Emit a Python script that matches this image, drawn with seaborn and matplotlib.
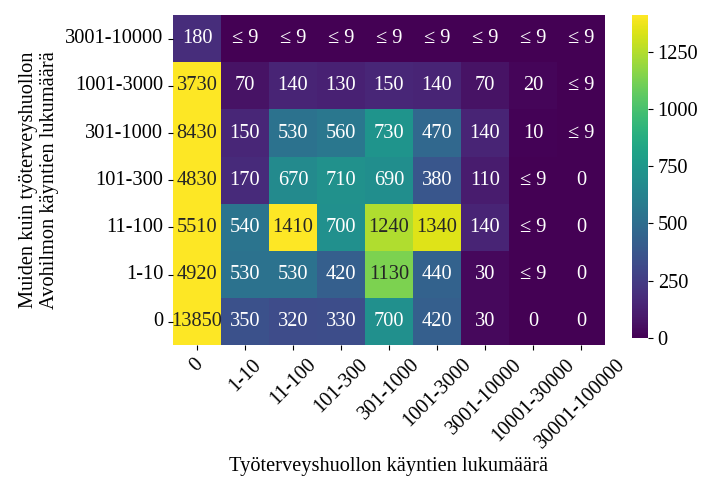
import numpy as np
import pandas as pd
import matplotlib
matplotlib.use("Agg")
import matplotlib.pyplot as plt
import seaborn as sns

# Visit-count classes
col_labels = ["0", "1-10", "11-100", "101-300", "301-1000", "1001-3000",
              "3001-10000", "10001-30000", "30001-100000"]
row_labels = ["3001-10000", "1001-3000", "301-1000", "101-300", "11-100", "1-10", "0"]

# Counts per cell (suppressed small counts stored as 5 and shown as "≤ 9")
row_3001_10000 = [180, 5, 5, 5, 5, 5, 5, 5, 5]
row_1001_3000 = [3730, 70, 140, 130, 150, 140, 70, 20, 5]
row_301_1000 = [8430, 150, 530, 560, 730, 470, 140, 10, 5]
row_101_300 = [4830, 170, 670, 710, 690, 380, 110, 5, 0]
row_11_100 = [5510, 540, 1410, 700, 1240, 1340, 140, 5, 0]
row_1_10 = [4920, 530, 530, 420, 1130, 440, 30, 5, 0]
row_0 = [13850, 350, 320, 330, 700, 420, 30, 0, 0]

# Which cells are suppressed
suppressed = [
    [0, 1, 1, 1, 1, 1, 1, 1, 1],
    [0, 0, 0, 0, 0, 0, 0, 0, 1],
    [0, 0, 0, 0, 0, 0, 0, 0, 1],
    [0, 0, 0, 0, 0, 0, 0, 1, 0],
    [0, 0, 0, 0, 0, 0, 0, 1, 0],
    [0, 0, 0, 0, 0, 0, 0, 1, 0],
    [0, 0, 0, 0, 0, 0, 0, 0, 0],
]

values = np.array([row_3001_10000, row_1001_3000, row_301_1000, row_101_300,
                   row_11_100, row_1_10, row_0])
df = pd.DataFrame(values, index=row_labels, columns=col_labels)

annot = np.where(np.array(suppressed) == 1, "≤ 9", values.astype(str))

plt.rcParams["font.family"] = ["Liberation Serif", "DejaVu Serif"]
fs = 14.7

fig = plt.figure(figsize=(7.04, 4.82), dpi=100)
ax = fig.add_axes([0.2457, 0.2832, 0.6136, 0.6857])
cax = fig.add_axes([0.8977, 0.2988, 0.0227, 0.670])

# Colour scale tops out at the largest count outside the first column
vmax = values[:, 1:].max()

sns.heatmap(df, ax=ax, cbar_ax=cax, cmap="viridis", vmin=0, vmax=vmax,
            annot=annot, fmt="", annot_kws={"fontsize": fs})

ax.set_xlabel("Työterveyshuollon käyntien lukumäärä", fontsize=fs, labelpad=3)
ax.set_ylabel("Muiden kuin työterveyshuollon\nAvohilmon käyntien lukumäärä", fontsize=fs)
ax.tick_params(axis="both", labelsize=fs)
plt.setp(ax.get_xticklabels(), rotation=45, ha="center")
plt.setp(ax.get_yticklabels(), rotation=0)
cax.tick_params(labelsize=fs)
cax.set_yticks([0, 250, 500, 750, 1000, 1250])

fig.savefig("out.png", dpi=100)
